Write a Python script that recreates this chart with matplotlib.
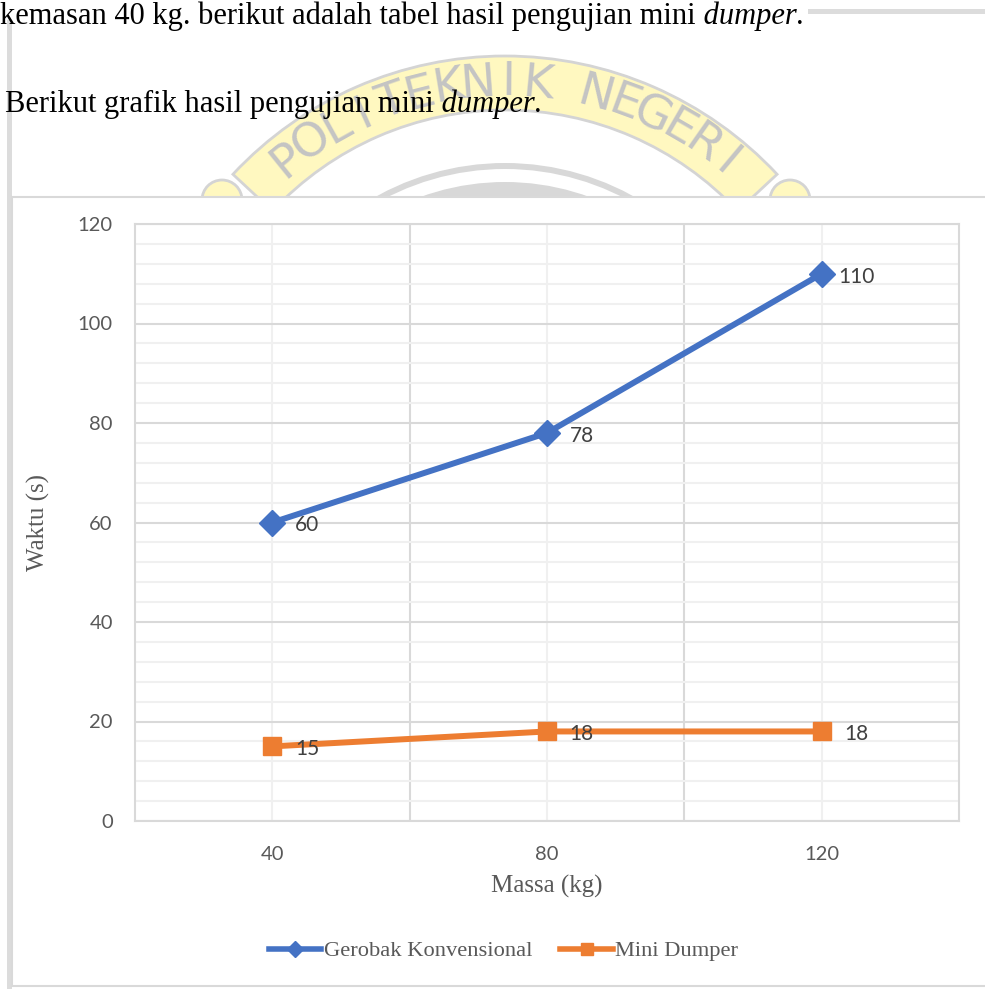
import numpy as np
import matplotlib.pyplot as plt
from matplotlib.patches import Wedge, Circle, Rectangle
from matplotlib.lines import Line2D

# data
massa = ['40', '80', '120']
gerobak = [60, 78, 110]
dumper = [15, 18, 18]
seri = ['Gerobak Konvensional', 'Mini Dumper']
y_ticks = [0, 20, 40, 60, 80, 100, 120]

BLUE = '#4472C4'
ORANGE = '#ED7D31'
GRID = '#D9D9D9'
MINOR = '#F0F0F0'
TXT = '#595959'
SERIF = 'Liberation Serif'
SANS = 'Lato'

W, H = 985, 989
fig = plt.figure(figsize=(W / 100, H / 100), dpi=100)

# background layer in pixel units (page, watermark, chart frame)
bg = fig.add_axes([0, 0, 1, 1], zorder=0)
bg.set_xlim(0, W)
bg.set_ylim(H, 0)
bg.axis('off')

# watermark logo
cx, cy = 505, 428
bg.add_patch(Wedge((cx, cy), 372, 223, 317, width=54, fc='#FFF8C0',
                   ec='#D4D4D4', lw=2, zorder=1))
for r, w in [(265, 6), (246, 14)]:
    bg.add_patch(Wedge((cx, cy), r, 205, 335, width=w, fc='#D8D8D8',
                       ec='none', zorder=1))
for px in (222, 790):
    bg.add_patch(Circle((px, 200), 20, fc='#FFF8C0', ec='#D4D4D4', lw=2, zorder=1))
word = 'POLITEKNIK NEGERI'
angles = np.linspace(-39, 40, len(word))
for ch, a in zip(word, angles):
    t = np.radians(a)
    bg.text(cx + 345 * np.sin(t), cy - 345 * np.cos(t), ch, rotation=-a,
            rotation_mode='anchor', ha='center', va='center', fontsize=34,
            color='#C4C4C4', family='DejaVu Sans', zorder=2)

# page text
renderer = fig.canvas.get_renderer()


def write_line(x, y, parts):
    for s, style in parts:
        t = bg.text(x, y, s, fontsize=22, family=SERIF, style=style,
                    va='baseline', color='black', zorder=3)
        x += t.get_window_extent(renderer).width


write_line(0, 24, [('kemasan 40 kg. berikut adalah tabel hasil pengujian mini', 'normal'),
                   (' dumper', 'italic'), ('.', 'normal')])
write_line(5, 112, [('Berikut grafik hasil pengujian mini', 'normal'),
                    (' dumper', 'italic'), ('.', 'normal')])

bg.add_patch(Rectangle((808, 9), 180, 5, fc='#DCDCDC', ec='none', zorder=2))
bg.add_patch(Rectangle((12, 197), 990, 789, fc='white', ec=GRID, lw=1.5, zorder=5))
bg.add_patch(Rectangle((7, 20), 5, 975, fc='#DCDCDC', ec='none', zorder=2))

# chart
ax = fig.add_axes([135 / W, 1 - 821 / H, 824 / W, 597 / H], zorder=2)
ax.set_facecolor('none')
x = np.arange(len(massa))
ax.plot(x, gerobak, color=BLUE, lw=4.3, marker='D', ms=13, zorder=3)
ax.plot(x, dumper, color=ORANGE, lw=4.3, marker='s', ms=13, zorder=3)

for ys in (gerobak, dumper):
    for xi, yi in zip(x, ys):
        ax.annotate(str(yi), (xi, yi), xytext=(25, -2), textcoords='offset points',
                    ha='center', va='center', fontsize=15, color='#404040',
                    family=SANS, zorder=4)

ax.set_xlim(-0.5, len(massa) - 0.5)
ax.set_ylim(0, 120)
ax.set_xticks(x, massa)
ax.set_xticks(x[:-1] + 0.5, minor=True)
ax.set_yticks(y_ticks)
ax.set_yticks(np.arange(0, 121, 4), minor=True)
ax.xaxis.grid(True, which='major', color=MINOR, lw=1.5)
ax.xaxis.grid(True, which='minor', color=GRID, lw=1.5)
ax.yaxis.grid(True, which='minor', color=MINOR, lw=1.5)
ax.yaxis.grid(True, which='major', color=GRID, lw=1.5)
ax.set_axisbelow(True)
ax.tick_params(which='both', length=0, labelsize=14.5, labelcolor=TXT)
ax.tick_params(axis='y', pad=16)
ax.tick_params(axis='x', pad=18)
for lab in ax.get_xticklabels() + ax.get_yticklabels():
    lab.set_family(SANS)
for sp in ax.spines.values():
    sp.set_color(GRID)
    sp.set_linewidth(1.5)

ax.text(0.5, -0.109, 'Massa (kg)', transform=ax.transAxes, ha='center', va='center',
        fontsize=18, family=SERIF, color=TXT)
ax.text(-0.1177, 0.5, 'Waktu (s)', transform=ax.transAxes, ha='center', va='center',
        rotation=90, fontsize=18, family=SERIF, color=TXT)

handles = [Line2D([], [], color=BLUE, lw=4, marker='D', ms=8),
           Line2D([], [], color=ORANGE, lw=4, marker='s', ms=8)]
ax.legend(handles, seri, loc='center', bbox_to_anchor=(503.5 / W, 1 - 951 / H),
          bbox_transform=fig.transFigure, ncol=2, frameon=False, handlelength=2.35,
          handletextpad=0.1, columnspacing=1.25, labelcolor=TXT,
          prop={'family': SERIF, 'size': 16.2})

fig.savefig('out.png', dpi=100)
